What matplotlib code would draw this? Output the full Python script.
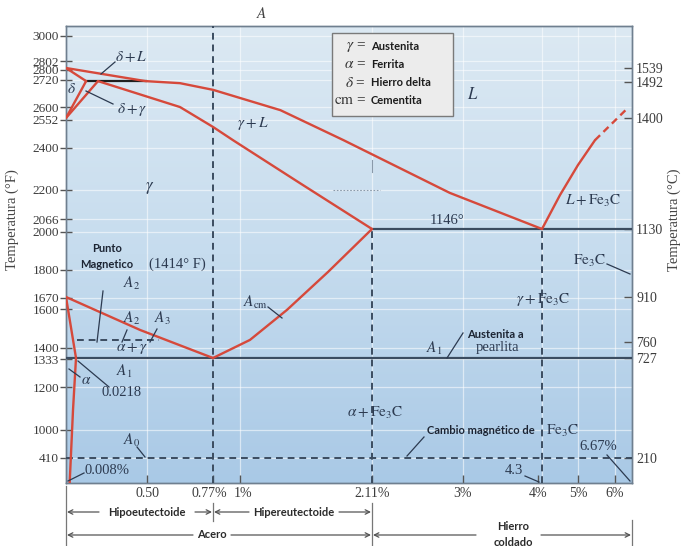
import numpy as np
import matplotlib
matplotlib.use("Agg")
import matplotlib.pyplot as plt
from matplotlib.lines import Line2D
from matplotlib.patches import Rectangle, FancyArrowPatch
from matplotlib.transforms import ScaledTranslation
from matplotlib.colors import LinearSegmentedColormap

plt.rcParams['mathtext.fontset'] = 'stix'

# ---------------- data (composition wt% C, temperature °C) ----------------
liquidus_wt = [0.0, 0.49, 0.635, 0.77, 1.34, 1.87, 2.87, 4.3]
liquidus_c = [1539, 1495, 1489, 1472, 1420, 1338, 1213, 1130]
solidus_wt = [0.17, 0.635, 0.77, 0.94, 1.50, 2.11]
solidus_c = [1495, 1428, 1375, 1338, 1236, 1130]
delta_solidus_wt = [0.0, 0.09]
delta_solidus_c = [1539, 1495]
delta_solvus_wt = [0.0, 0.09]
delta_solvus_c = [1400, 1495]
gamma_delta_wt = [0.0, 0.17]
gamma_delta_c = [1400, 1495]
a3_wt = [0.0, 0.454, 0.77]
a3_c = [910, 800, 727]
acm_wt = [0.77, 1.084, 1.395, 1.74, 2.11]
acm_c = [727, 767, 867, 991, 1130]
alpha_gamma_wt = [0.0, 0.0218]
alpha_gamma_c = [910, 727]
alpha_solvus_wt = [0.0218, 0.0153, 0.008]
alpha_solvus_c = [727, 590, 0]
fe3c_liq_wt = [4.3, 4.65, 5.0, 5.46]
fe3c_liq_c = [1130, 1208, 1277, 1338]
fe3c_liq_ext_wt = [5.46, 6.51]
fe3c_liq_ext_c = [1338, 1426]

peritectic_wt = [0.09, 0.49]
peritectic_c = 1495
eutectic_wt = [2.11, 6.67]
eutectic_c = 1130
eutectoid_wt = [0.0, 6.67]
eutectoid_c = 727
a2_wt = [0.03, 0.55]
a2_c = 768
a0_wt = [0.0, 6.67]
a0_c = 210

eutectoid_comp = 0.77
max_gamma_comp = 2.11
eutectic_comp = 4.3
top_c = 1680

x_ticks = [0.5, 0.77, 1.0, 2.11, 3.0, 4.0, 5.0, 6.0]
x_labels = ["0.50", "0.77%", "1%", "2.11%", "3%", "4%", "5%", "6%"]
x_grid = [0.5, 1.0, 2.11, 3.0, 4.3, 5.0, 6.0]
f_ticks = [3000, 2802, 2800, 2720, 2600, 2552, 2400, 2200, 2066, 2000,
           1800, 1670, 1600, 1400, 1333, 1200, 1000, 410]
c_ticks = [1539, 1492, 1400, 1130, 910, 760, 727, 210]

# ---------------- scale breakpoints (schematic, non-linear axes) ----------------
W, H = 683, 546
AX_L, AX_R, AX_T, AX_B = 66, 632, 26, 483
x_bp_val = [0, 0.0218, 0.5, 0.77, 1.0, 2.11, 3.0, 4.0, 4.3, 5.0, 6.0, 6.67]
x_bp_px = [66, 76, 147, 213, 240, 372, 463, 538, 542, 578, 615, 632]
c_bp_val = [0, 210, 538, 649, 727, 760, 910, 1130, 1316, 1400, 1492, 1539, 1680]
c_bp_px = [483, 458, 430, 387, 358, 342, 297, 229, 148, 118, 82, 68, 26]
f_bp_val = [0, 410, 1000, 1200, 1333, 1400, 1600, 1670, 1800, 2000, 2066,
            2200, 2400, 2552, 2600, 2720, 2800, 2802, 3000, 3080]
f_bp_px = [483, 458, 430, 387, 359, 348, 309, 298, 270, 232, 219,
           190, 148, 120, 107, 80, 70, 61, 36, 26]


def make_scale(vals, pxs, flip):
    v = np.asarray(vals, float)
    p = np.asarray(pxs, float)
    p = (AX_B - p) if flip else (p - AX_L)

    def fwd(a):
        return np.interp(a, v, p)

    def inv(a):
        return np.interp(a, p, v)
    return fwd, inv


RED = '#d6493b'
DARK = '#3b4c60'
NAVY = '#2c3a50'
TICKC = '#3c3c3c'
SERIF = 'Liberation Serif'
SANS = 'Lato'

fig = plt.figure(figsize=(W / 100, H / 100), dpi=100)
fig.patch.set_facecolor('white')
pos = [AX_L / W, 1 - AX_B / H, (AX_R - AX_L) / W, (AX_B - AX_T) / H]

# background gradient
bg = fig.add_axes(pos, zorder=-5)
grad = np.linspace(0, 1, 256).reshape(-1, 1)
cmap = LinearSegmentedColormap.from_list('bgc', ['#dce9f3', '#c6dcee', '#a9c9e6'])
bg.imshow(grad, aspect='auto', cmap=cmap, extent=[0, 1, 0, 1], origin='upper')
bg.axis('off')

ax = fig.add_axes(pos)
axF = ax.twinx()
ax.set_zorder(axF.get_zorder() + 1)
ax.patch.set_visible(False)
axF.patch.set_visible(False)

ax.set_xscale('function', functions=make_scale(x_bp_val, x_bp_px, False))
ax.set_yscale('function', functions=make_scale(c_bp_val, c_bp_px, True))
axF.set_yscale('function', functions=make_scale(f_bp_val, f_bp_px, True))
ax.set_xlim(0, 6.67)
ax.set_ylim(0, top_c)
axF.set_ylim(0, 3080)

# grid (white)
for f in f_ticks:
    axF.axhline(f, color='white', lw=0.9, alpha=0.55, zorder=0)
for xg in x_grid:
    axF.axvline(xg, color='white', lw=0.9, alpha=0.55, zorder=0)

# ---------------- phase boundaries ----------------
lw = 1.7
for xs, ys in [(liquidus_wt, liquidus_c), (solidus_wt, solidus_c),
               (delta_solidus_wt, delta_solidus_c), (delta_solvus_wt, delta_solvus_c),
               (gamma_delta_wt, gamma_delta_c), (a3_wt, a3_c), (acm_wt, acm_c),
               (alpha_gamma_wt, alpha_gamma_c), (alpha_solvus_wt, alpha_solvus_c),
               (fe3c_liq_wt, fe3c_liq_c)]:
    ax.plot(xs, ys, color=RED, lw=lw, solid_capstyle='round', solid_joinstyle='round', zorder=4)
ax.plot(fe3c_liq_ext_wt, fe3c_liq_ext_c, color=RED, lw=lw, ls=(0, (3, 2)), zorder=4)

ax.plot(peritectic_wt, [peritectic_c] * 2, color='#1f1f1f', lw=1.6, zorder=3)
ax.plot(eutectic_wt, [eutectic_c] * 2, color=DARK, lw=1.6, zorder=3)
ax.plot(eutectoid_wt, [eutectoid_c] * 2, color=DARK, lw=1.6, zorder=3)
dash = (0, (3.5, 2.5))
ax.plot(a2_wt, [a2_c] * 2, color=DARK, lw=1.4, ls=dash, zorder=3)
ax.plot(a0_wt, [a0_c] * 2, color=DARK, lw=1.4, ls=dash, zorder=3)
ax.plot([eutectoid_comp] * 2, [0, top_c], color=DARK, lw=1.4, ls=dash, zorder=3)
ax.plot([max_gamma_comp] * 2, [0, eutectic_c], color=DARK, lw=1.4, ls=dash, zorder=3)
ax.plot([eutectic_comp] * 2, [0, eutectic_c], color=DARK, lw=1.4, ls=dash, zorder=3)

# ---------------- axes styling ----------------
ax.set_xticks(x_ticks)
ax.set_xticklabels(x_labels, fontfamily=SERIF, fontsize=10, color=TICKC)
ax.xaxis.set_minor_locator(matplotlib.ticker.NullLocator())
ax.tick_params(axis='x', direction='in', length=6, width=1, color='#555', pad=3)
xl = ax.get_xticklabels()
xl[1].set_transform(xl[1].get_transform() + ScaledTranslation(-4 / 100, 0, fig.dpi_scale_trans))
xl[2].set_transform(xl[2].get_transform() + ScaledTranslation(3 / 100, 0, fig.dpi_scale_trans))

ax.yaxis.set_ticks_position('right')
ax.set_yticks(c_ticks)
ax.set_yticklabels([str(c) for c in c_ticks], fontfamily=SERIF, fontsize=10, color=TICKC)
ax.yaxis.set_minor_locator(matplotlib.ticker.NullLocator())
ax.tick_params(axis='y', direction='in', length=6, width=1, color='#555', pad=3)

axF.yaxis.set_ticks_position('left')
axF.set_yticks(f_ticks)
axF.set_yticklabels([str(f) for f in f_ticks], fontfamily=SERIF, fontsize=9.5, color=TICKC)
axF.yaxis.set_minor_locator(matplotlib.ticker.NullLocator())
axF.tick_params(axis='y', direction='inout', length=8, width=1, color='#555', pad=1)

for a in (ax, axF):
    for s in a.spines.values():
        s.set_color('#6f7f8f')
        s.set_linewidth(1.0)


# ---------------- annotations (figure pixel positions) ----------------
def P(x, y):
    return (x / W, 1 - y / H)


def txt(x, y, s, size=10, family=SERIF, color=NAVY, weight='normal', style='normal', **kw):
    fig.text(*P(x, y), s, ha=kw.pop('ha', 'center'), va=kw.pop('va', 'center'),
             fontsize=size, fontfamily=family, color=color, fontweight=weight,
             fontstyle=style, zorder=6, **kw)


def lead(x0, y0, x1, y1, color=NAVY, lw=0.9, ls='-'):
    fig.add_artist(Line2D([x0 / W, x1 / W], [1 - y0 / H, 1 - y1 / H],
                          transform=fig.transFigure, color=color, lw=lw, ls=ls, zorder=6))


txt(262, 14, r'$A$', 11, color='#444')
txt(131, 56, r'$\delta + L$', 11)
lead(115, 62, 101, 74)
txt(72, 89, r'$\delta$', 11)
txt(132, 109, r'$\delta + \gamma$', 11)
lead(113, 104, 86, 91)
txt(253, 124, r'$\gamma + L$', 11)
txt(150, 188, r'$\gamma$', 12)
txt(473, 95, r'$L$', 12)
txt(593, 201, r'$L + \mathrm{Fe_3C}$', 11)
txt(447, 220, '1146°', 10.5)
txt(590, 261, r'$\mathrm{Fe_3C}$', 11)
lead(607, 264, 630, 274)
txt(543, 299, r'$\gamma + \mathrm{Fe_3C}$', 11)
txt(495, 334, 'Austenita a', 8, SANS, '#1c2433', 'bold')
txt(497, 348, 'pearlita', 10.5)
txt(434, 348, r'$A_1$', 11)
lead(447, 358, 463, 333)
txt(107, 249, 'Punto', 8, SANS, '#1c2433', 'bold')
txt(107, 265, 'Magnetico', 8, SANS, '#1c2433', 'bold')
txt(177, 264, '(1414° F)', 10.5)
txt(132, 283, r'$A_2$', 11)
lead(103, 291, 97, 342)
txt(132, 318, r'$A_2$', 11)
lead(127, 330, 122, 342)
txt(162, 318, r'$A_3$', 11)
lead(157, 329, 150, 342)
txt(132, 349, r'$\alpha + \gamma$', 11)
txt(124, 371, r'$A_1$', 11)
txt(86, 381, r'$\alpha$', 11)
lead(80, 377, 69, 369)
txt(122, 393, '0.0218', 10.5)
lead(109, 387, 78, 361)
txt(255, 302, r'$A_{\mathrm{cm}}$', 11)
lead(268, 307, 282, 318)
txt(375, 413, r'$\alpha + \mathrm{Fe_3C}$', 11)
txt(481, 431, 'Cambio magnético de', 8, SANS, '#1c2433', 'bold')
txt(563, 431, r'$\mathrm{Fe_3C}$', 11)
lead(424, 437, 407, 456)
txt(132, 440, r'$A_0$', 11)
lead(137, 447, 145, 457)
txt(107, 471, '0.008%', 10.5)
lead(84, 473, 68, 481)
txt(598, 447, '6.67%', 10.5)
lead(607, 455, 630, 481)
txt(514, 471, '4.3', 10.5)
lead(525, 476, 539, 482)

# faint printing artefact near 2.11% / 1200 °C
lead(333, 190, 380, 190, color='#8a9aaa', lw=0.8, ls=(0, (1.5, 1.5)))
lead(372, 160, 372, 172, color='#8a9aaa', lw=0.8)

# legend box
fig.add_artist(Rectangle(P(332, 116), 121 / W, 83 / H, transform=fig.transFigure,
                         fc='#ececec', ec='#7a7a7a', lw=1.0, zorder=5))
for yy, sym, word in [(47, r'$\gamma$ =', 'Austenita'), (64, r'$\alpha$ =', 'Ferrita'),
                      (83, r'$\delta$ =', 'Hierro delta'), (100, r'$\mathrm{cm}$ =', 'Cementita')]:
    txt(366, yy, sym, 11, ha='right', color='#333')
    txt(371, yy, word, 8, SANS, '#1c1c1c', 'bold', ha='left')

# axis titles
txt(12, 220, 'Temperatura (°F)', 10.5, color='#444', rotation=90)
txt(674, 220, 'Temperatura (°C)', 10.5, color='#444', rotation=90)


# bottom range arrows
def arrow(x_from, x_to, y):
    fig.add_artist(FancyArrowPatch(
        P(x_from, y), P(x_to, y), transform=fig.transFigure, arrowstyle='->',
        mutation_scale=8, color='#555', lw=0.9, shrinkA=0, shrinkB=0, zorder=6))


for x, y0, y1 in [(66, 486, 546), (213, 503, 521), (372, 503, 546), (632, 520, 546)]:
    lead(x, y0, x, y1, color='#777', lw=0.9)

txt(147, 512, 'Hipoeutectoide', 8, SANS, '#2a2a2a', 'bold')
arrow(99, 67, 512)
arrow(195, 212, 512)
txt(294, 512, 'Hipereutectoide', 8, SANS, '#2a2a2a', 'bold')
arrow(249, 214, 512)
arrow(339, 371, 512)
txt(212, 535, 'Acero', 8, SANS, '#2a2a2a', 'bold')
arrow(193, 67, 535)
arrow(231, 371, 535)
txt(513, 527, 'Hierro', 8, SANS, '#2a2a2a', 'bold')
txt(513, 542, 'coldado', 8, SANS, '#2a2a2a', 'bold')
arrow(476, 373, 535)
arrow(541, 631, 535)

fig.savefig('out.png', dpi=100)
